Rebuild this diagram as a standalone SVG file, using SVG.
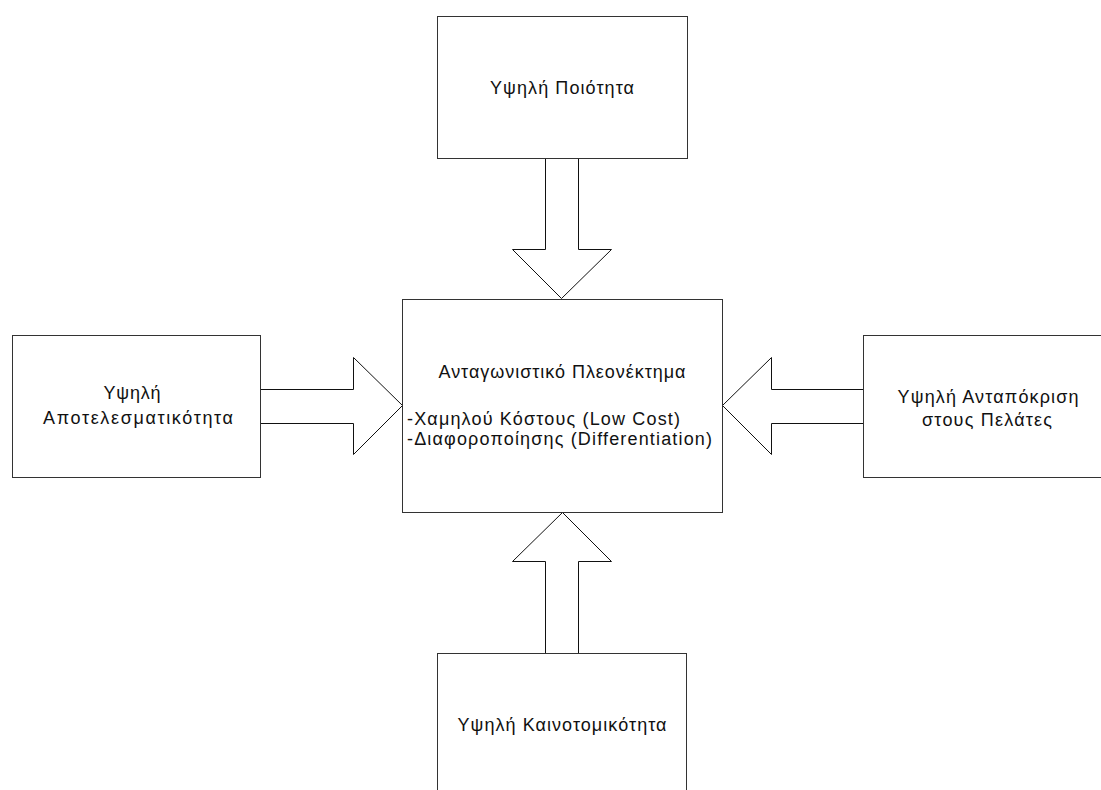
<svg xmlns="http://www.w3.org/2000/svg" width="1101" height="790" viewBox="0 0 1101 790">
<style>
.box{fill:#fff;stroke:#333;stroke-width:1}
.arr{fill:#fff;stroke:#111;stroke-width:1;stroke-linejoin:miter}
text{font-family:"Liberation Sans",Arial,sans-serif;font-size:18px;fill:#111}
.c{text-anchor:middle}
</style>
<rect width="1101" height="790" fill="#fff"/>
<g id="connectors">
<polygon class="arr" points="545.5,158.5 578.5,158.5 578.5,249.5 611.5,249.5 561.5,298.5 512.5,249.5 545.5,249.5"/>
<polygon class="arr" points="260.5,389.5 353.5,389.5 353.5,357.5 402.5,405.5 353.5,454.5 353.5,423.5 260.5,423.5"/>
<polygon class="arr" points="863.5,389.5 771.5,389.5 771.5,357.5 722.5,405.5 771.5,454.5 771.5,423.5 863.5,423.5"/>
<polygon class="arr" points="545.5,653.5 545.5,561.5 512.5,561.5 562.5,512.5 611.5,561.5 578.5,561.5 578.5,653.5"/>
</g>
<g id="quality">
<rect class="box" x="437.5" y="16.5" width="250" height="142"/>
<text class="c" x="562" y="94" textLength="144" lengthAdjust="spacing">Υψηλή Ποιότητα</text>
</g>
<g id="advantage">
<rect class="box" x="402.5" y="299.5" width="320" height="213"/>
<text class="c" x="562" y="378" textLength="247" lengthAdjust="spacing">Ανταγωνιστικό Πλεονέκτημα</text>
<text x="407" y="425" textLength="273" lengthAdjust="spacing">-Χαμηλού Κόστους (Low Cost)</text>
<text x="407" y="445" textLength="305" lengthAdjust="spacing">-Διαφοροποίησης (Differentiation)</text>
</g>
<g id="efficiency">
<rect class="box" x="12.5" y="335.5" width="248" height="142"/>
<text class="c" x="132" y="399" textLength="57" lengthAdjust="spacing">Υψηλή</text>
<text class="c" x="138" y="424" textLength="190" lengthAdjust="spacing">Αποτελεσματικότητα</text>
</g>
<g id="responsiveness">
<rect class="box" x="863.5" y="335.5" width="250" height="142"/>
<text class="c" x="988" y="403" textLength="181" lengthAdjust="spacing">Υψηλή Ανταπόκριση</text>
<text class="c" x="987" y="426" textLength="130" lengthAdjust="spacing">στους Πελάτες</text>
</g>
<g id="innovation">
<rect class="box" x="437.5" y="653.5" width="249" height="150"/>
<text class="c" x="562" y="731" textLength="209" lengthAdjust="spacing">Υψηλή Καινοτομικότητα</text>
</g>
</svg>
